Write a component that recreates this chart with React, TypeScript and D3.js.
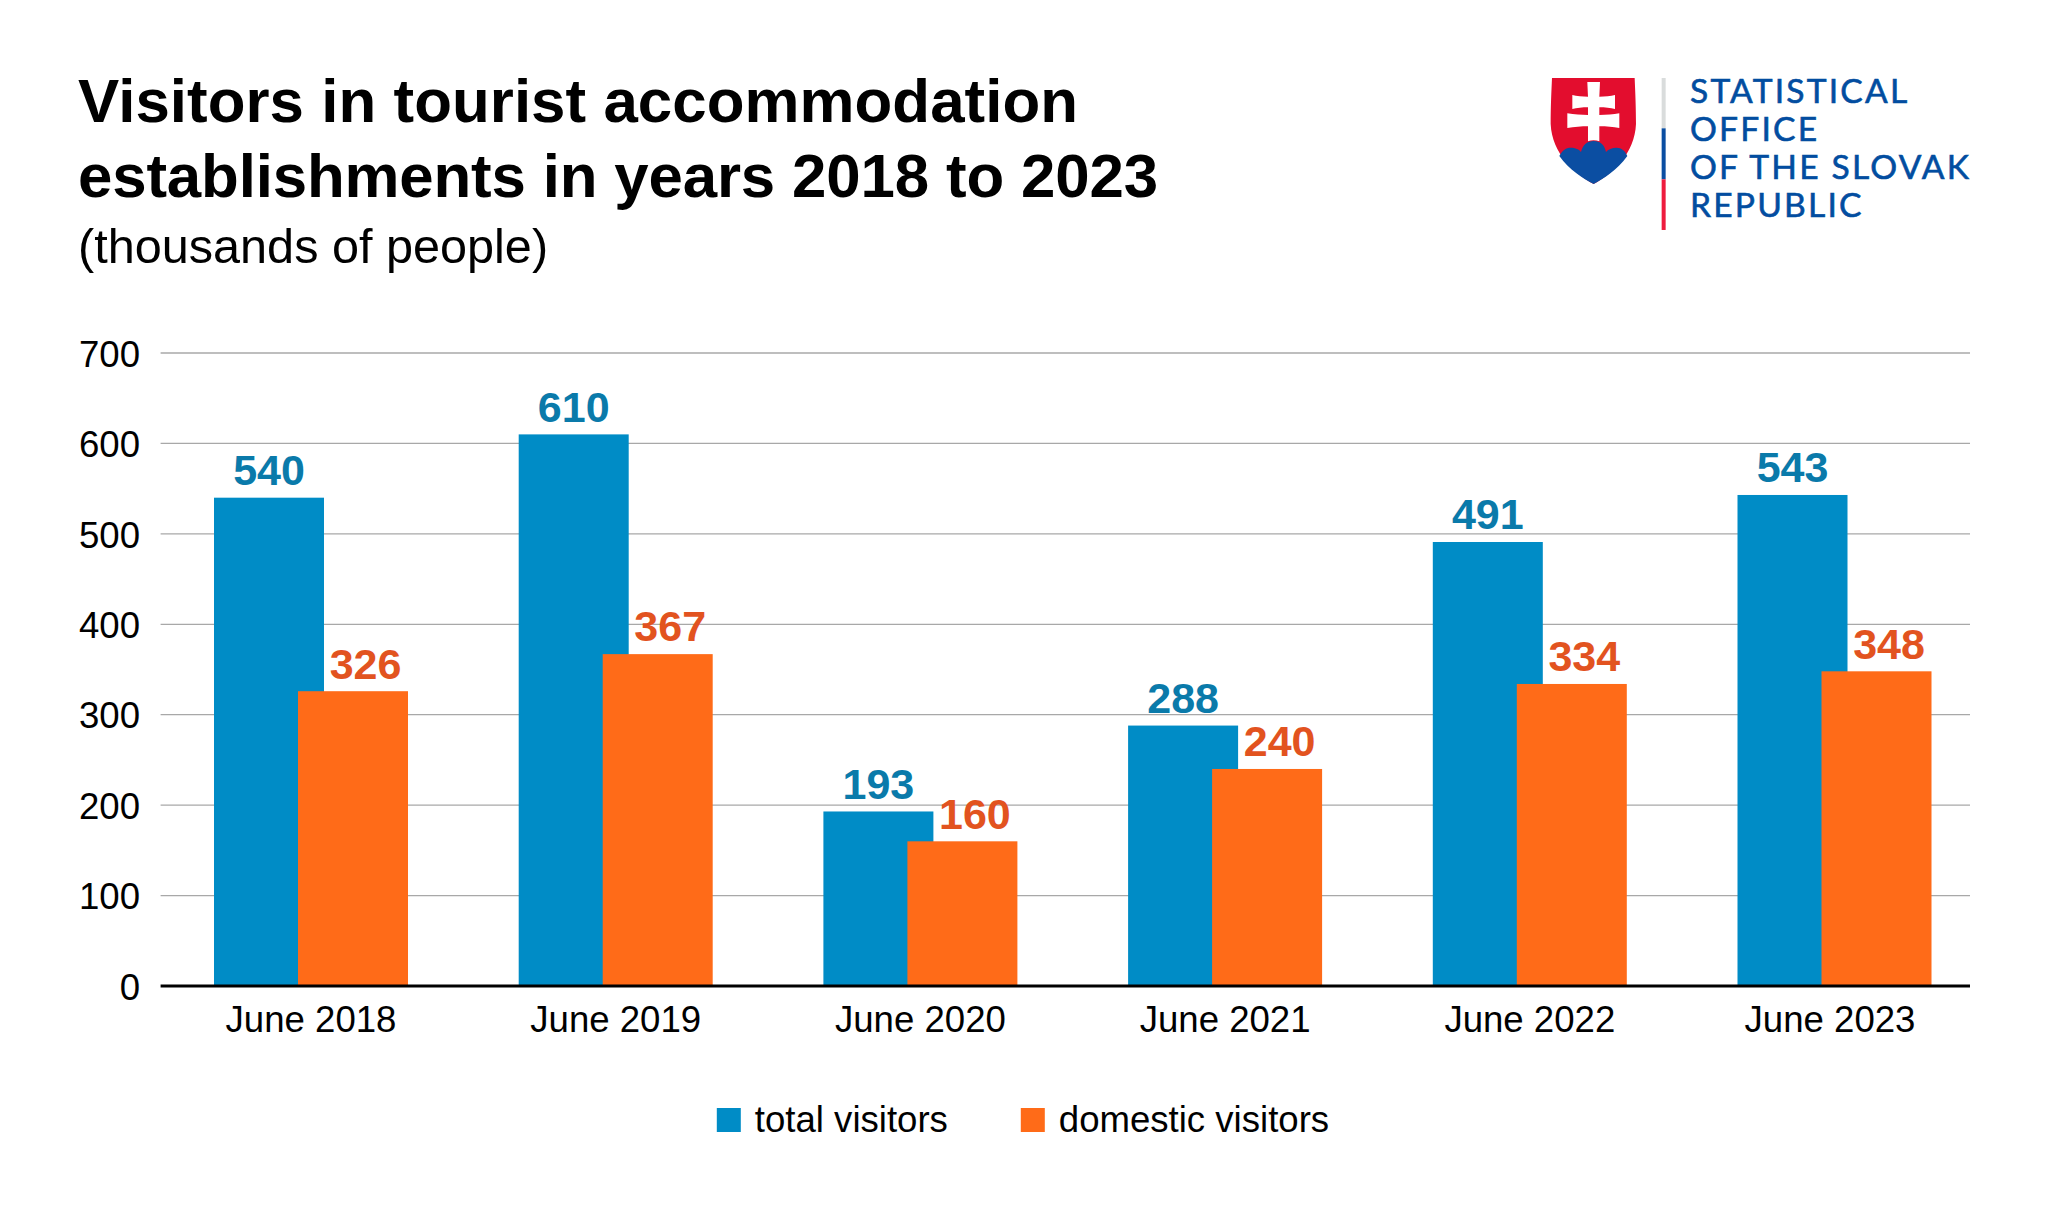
import React, { useRef, useEffect } from "react";
import * as d3 from "d3";

const categories = ["June 2018", "June 2019", "June 2020", "June 2021", "June 2022", "June 2023"];
const totalVisitors = [540, 610, 193, 288, 491, 543];
const domesticVisitors = [326, 367, 160, 240, 334, 348];
const yTicks = [0, 100, 200, 300, 400, 500, 600, 700];
const legendLabels = ["total visitors", "domestic visitors"];
const titleLines = ["Visitors in tourist accommodation", "establishments in years 2018 to 2023"];
const subtitle = "(thousands of people)";
const logoLines = ["STATISTICAL", "OFFICE", "OF THE SLOVAK", "REPUBLIC"];

const FONT = "'Liberation Sans', Arial, sans-serif";

const App = () => {
  const chartRef = useRef<SVGSVGElement>(null);

  useEffect(() => {
    const svg = d3.select(chartRef.current);
    svg.selectAll("*").remove();

    const width = 2048;
    const height = 1210;

    // Plot area
    const left = 160.6;
    const right = 1970;
    const top = 353;
    const bottom = 986;

    svg.attr("width", width).attr("height", height).attr("viewBox", `0 0 ${width} ${height}`);
    svg.append("rect").attr("width", width).attr("height", height).attr("fill", "#fff");

    // Title block
    const titleWidths = [1000, 1080];
    titleLines.forEach((line, i) => {
      svg
        .append("text")
        .attr("x", 78)
        .attr("y", 122 + i * 74.7)
        .attr("font-family", FONT)
        .attr("font-weight", 700)
        .attr("font-size", 61.8)
        .attr("textLength", titleWidths[i])
        .attr("lengthAdjust", "spacing")
        .attr("fill", "#000")
        .text(line);
    });
    svg
      .append("text")
      .attr("x", 78)
      .attr("y", 262.7)
      .attr("font-family", FONT)
      .attr("font-size", 48.6)
      .attr("fill", "#000")
      .text(subtitle);

    // Scales
    const x = d3.scaleBand().domain(categories).range([158.65, 1986.85]);
    const y = d3.scaleLinear().domain([0, 700]).range([bottom, top]);

    // Gridlines and y axis
    const yAxis = d3.axisLeft(y).tickValues(yTicks).tickSize(0).tickPadding(20.6);
    const yG = svg.append("g").attr("transform", `translate(${left},0)`).call(yAxis as any);
    yG.select(".domain").remove();
    yG.selectAll("text")
      .attr("font-family", FONT)
      .attr("font-size", 36.6)
      .attr("fill", "#000")
      .attr("dy", "0.36em");

    svg
      .selectAll(".grid")
      .data(yTicks.filter((d) => d > 0))
      .enter()
      .append("line")
      .attr("class", "grid")
      .attr("x1", left)
      .attr("x2", right)
      .attr("y1", (d) => y(d))
      .attr("y2", (d) => y(d))
      .attr("stroke", "#a8a8a8")
      .attr("stroke-width", 1.3);

    // Bars
    const barWidth = 110;
    const blueOffset = -97;
    const orangeOffset = -13;
    const centre = (c: string) => (x(c) as number) + x.bandwidth() / 2;

    svg
      .selectAll(".total")
      .data(totalVisitors)
      .enter()
      .append("rect")
      .attr("class", "total")
      .attr("x", (_, i) => centre(categories[i]) + blueOffset)
      .attr("y", (d) => y(d))
      .attr("width", barWidth)
      .attr("height", (d) => y(0) - y(d))
      .attr("fill", "#008cc6");

    svg
      .selectAll(".domestic")
      .data(domesticVisitors)
      .enter()
      .append("rect")
      .attr("class", "domestic")
      .attr("x", (_, i) => centre(categories[i]) + orangeOffset)
      .attr("y", (d) => y(d))
      .attr("width", barWidth)
      .attr("height", (d) => y(0) - y(d))
      .attr("fill", "#ff6b18");

    // Value labels
    svg
      .selectAll(".total-label")
      .data(totalVisitors)
      .enter()
      .append("text")
      .attr("class", "total-label")
      .attr("x", (_, i) => centre(categories[i]) + blueOffset + barWidth / 2)
      .attr("y", (d) => y(d) - 12.7)
      .attr("text-anchor", "middle")
      .attr("font-family", FONT)
      .attr("font-weight", 700)
      .attr("font-size", 43)
      .attr("fill", "#0a7aaa")
      .text((d) => d);

    svg
      .selectAll(".domestic-label")
      .data(domesticVisitors)
      .enter()
      .append("text")
      .attr("class", "domestic-label")
      .attr("x", (_, i) => centre(categories[i]) + orangeOffset + barWidth / 2 + 12.5)
      .attr("y", (d) => y(d) - 12.7)
      .attr("text-anchor", "middle")
      .attr("font-family", FONT)
      .attr("font-weight", 700)
      .attr("font-size", 43)
      .attr("fill", "#e2531f")
      .text((d) => d);

    // X axis
    const xAxis = d3.axisBottom(x).tickSize(0).tickPadding(0);
    const xG = svg.append("g").attr("transform", `translate(0,${bottom})`).call(xAxis as any);
    xG.select(".domain").remove();
    xG.selectAll("text")
      .attr("font-family", FONT)
      .attr("font-size", 36.6)
      .attr("fill", "#000")
      .attr("dy", 0)
      .attr("y", 45.7)
      // the last label sits a little left of its bars in the reference
      .attr("x", (d) => (d === categories[5] ? -4.5 : 0));

    svg
      .append("line")
      .attr("x1", left)
      .attr("x2", right)
      .attr("y1", bottom)
      .attr("y2", bottom)
      .attr("stroke", "#000")
      .attr("stroke-width", 3);

    // Legend
    const legendColors = ["#008cc6", "#ff6b18"];
    const legendX = [716.8, 1020.8];
    legendLabels.forEach((label, i) => {
      svg
        .append("rect")
        .attr("x", legendX[i])
        .attr("y", 1108)
        .attr("width", 24)
        .attr("height", 24)
        .attr("fill", legendColors[i]);
      svg
        .append("text")
        .attr("x", legendX[i] + 38)
        .attr("y", 1131.5)
        .attr("font-family", FONT)
        .attr("font-size", 36.6)
        .attr("fill", "#000")
        .text(label);
    });

    // Logo, drawn in zoomed-crop coordinates
    const logo = svg.append("g").attr("transform", "translate(1500,50) scale(0.3333)");
    logo
      .append("path")
      .attr("d", "M156,84 L404,84 C406,130 408,170 408,222 C404,310 340,370 281,402 C222,370 156,310 152,222 C152,170 154,130 156,84 Z")
      .attr("fill", "#e30d2e");
    logo
      .append("path")
      .attr("d", "M178,318 C188,300 198,293 212,293 C226,293 238,298 243,306 C248,284 262,273 281,273 C300,273 314,284 318,306 C324,298 336,293 350,293 C364,293 376,302 382,318 C350,362 312,385 281,402 C248,385 208,360 178,318 Z")
      .attr("fill", "#0b4ea2");
    logo
      .append("path")
      .attr("d", "M262,96 L300,96 L298,140 C315,140 332,138 345,135 L345,177 C332,174 315,172 298,172 L298,195 C320,195 340,193 358,190 L358,234 C340,231 320,229 298,229 L298,274 C288,270 274,270 264,274 L264,229 C245,229 222,231 202,234 L202,190 C222,193 245,195 264,195 L264,172 C248,172 230,174 217,177 L217,135 C230,138 248,140 264,140 Z")
      .attr("fill", "#fff");
    logo.append("rect").attr("x", 485).attr("y", 84).attr("width", 12).attr("height", 151).attr("fill", "#d9dcdc");
    logo.append("rect").attr("x", 485).attr("y", 235).attr("width", 12).attr("height", 153).attr("fill", "#0b4ea2");
    logo.append("rect").attr("x", 485).attr("y", 388).attr("width", 12).attr("height", 152).attr("fill", "#ee1c3e");

    const logoBaselines = [102.7, 140.7, 179, 216.7];
    logoLines.forEach((line, i) => {
      svg
        .append("text")
        .attr("x", 1690)
        .attr("y", logoBaselines[i])
        .attr("font-family", "Lato, 'Noto Sans', sans-serif")
        .attr("font-size", 33.6)
        .attr("letter-spacing", 2.2)
        .attr("stroke", "#024da0")
        .attr("stroke-width", 0.6)
        .attr("fill", "#024da0")
        .text(line);
    });
  }, []);

  return <svg ref={chartRef} style={{ position: "absolute", left: 0, top: 0 }} />;
};

export default App;
